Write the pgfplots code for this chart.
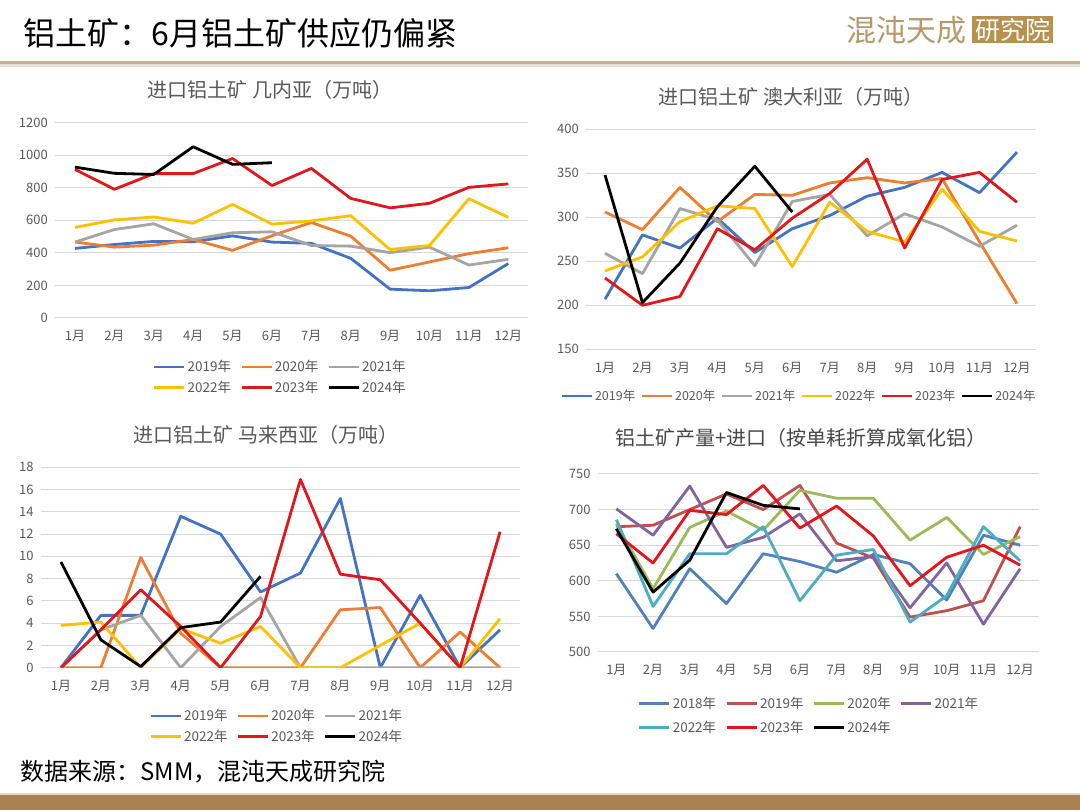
\documentclass[border=0pt]{standalone}
\usepackage{fontspec}
\setmainfont{Noto Sans CJK SC}
\usepackage{pgfplots}
\pgfplotsset{compat=1.18}
\definecolor{c1}{HTML}{4472C4}
\definecolor{c2}{HTML}{ED7D31}
\definecolor{c3}{HTML}{A5A5A5}
\definecolor{c4}{HTML}{FFC000}
\definecolor{c5}{HTML}{E3171B}
\definecolor{d1}{HTML}{4F81BD}
\definecolor{d2}{HTML}{C0504D}
\definecolor{d3}{HTML}{9BBB59}
\definecolor{d4}{HTML}{8064A2}
\definecolor{d5}{HTML}{4BACC6}
\definecolor{d6}{HTML}{E8141B}
\definecolor{gridc}{HTML}{D9D9D9}
\definecolor{labc}{HTML}{595959}
\definecolor{tanc}{HTML}{B8976A}
\definecolor{tanbox}{HTML}{B8914F}
\definecolor{barc}{HTML}{A88052}
\definecolor{linec}{HTML}{C4B193}
\pgfplotsset{
 panel/.style={
  scale only axis, anchor=south west,
  xmin=0.5, xmax=12.5, xtick={1,...,12},
  xticklabels={1月,2月,3月,4月,5月,6月,7月,8月,9月,10月,11月,12月},
  axis line style={draw=none},
  major tick length=0pt,
  ymajorgrids, grid style={gridc, line width=1pt},
  tick label style={font=\fontsize{13}{13}\selectfont, text=labc},
  xticklabel style={yshift=-9pt},
  yticklabel style={xshift=-4pt},
  /pgf/number format/assume math mode=true,
  /pgf/number format/1000 sep={},
  legend cell align=left,
  legend style={draw=none, fill=none, font=\fontsize{13.5}{14}\selectfont, text=labc, anchor=center,
    row sep=4pt,
    /tikz/every even column/.append style={column sep=7pt}},
  legend image code/.code={\draw[##1] (0pt,0pt) -- (30pt,0pt);},
  every axis plot/.append style={line width=2.8pt, line join=round},
  no markers,
 }
}
\begin{document}
\begin{tikzpicture}
\fill[white] (0,0) rectangle (1080pt,810pt);
\path[use as bounding box] (0,0) rectangle (1080pt,810pt);
% header
\node[anchor=west, font=\fontsize{32}{32}\selectfont] at (20pt,777pt) {铝土矿：6月铝土矿供应仍偏紧};
\node[anchor=west, text=tanc, font=\fontsize{30}{30}\selectfont, inner sep=0pt] at (846pt,780pt) {混沌天成};
\node[anchor=west, fill=tanbox, text=white, font=\fontsize{25}{25}\selectfont, inner xsep=3pt, inner ysep=1pt, minimum height=27pt] at (972pt,780pt) {研究院};
\fill[linec] (0,746pt) rectangle (1080pt,749pt);
\fill[linec!40] (0,743pt) rectangle (1080pt,746pt);
% footer
\node[anchor=west, font=\fontsize{24}{24}\selectfont] at (17pt,38pt) {数据来源：SMM，混沌天成研究院};
\fill[linec!50] (0,15pt) rectangle (1080pt,17pt);
\fill[barc] (0,0) rectangle (1080pt,15pt);
% titles
\node[text=labc, font=\fontsize{20}{20}\selectfont] at (270pt,720pt) {进口铝土矿 几内亚（万吨）};
\node[text=labc, font=\fontsize{20}{20}\selectfont] at (791pt,713pt) {进口铝土矿 澳大利亚（万吨）};
\node[text=labc, font=\fontsize{20}{20}\selectfont] at (266pt,375pt) {进口铝土矿 马来西亚（万吨）};
\node[text=labc!80!black, font=\fontsize{20}{20}\selectfont] at (801pt,372pt) {铝土矿产量+进口（按单耗折算成氧化铝）};

% Panel 1 Guinea
\begin{axis}[panel, at={(55.3pt,492pt)}, width=472.7pt, height=195.5pt,
  ymin=0, ymax=1200, ytick={0,200,...,1200},
  legend columns=3, legend style={at={(0.476,-0.304)}}]
\addplot[c1] coordinates {(1,427)(2,451)(3,470)(4,468)(5,504)(6,466)(7,458)(8,366)(9,177)(10,167)(11,187)(12,334)};
\addplot[c2] coordinates {(1,466)(2,435)(3,447)(4,482)(5,415)(6,505)(7,586)(8,502)(9,293)(10,344)(11,395)(12,431)};
\addplot[c3] coordinates {(1,466)(2,543)(3,578)(4,482)(5,523)(6,529)(7,445)(8,441)(9,401)(10,435)(11,325)(12,360)};
\addplot[c4] coordinates {(1,556)(2,602)(3,620)(4,582)(5,697)(6,576)(7,596)(8,628)(9,420)(10,445)(11,732)(12,618)};
\addplot[c5] coordinates {(1,912)(2,790)(3,886)(4,886)(5,979)(6,813)(7,918)(8,734)(9,676)(10,704)(11,802)(12,823)};
\addplot[black] coordinates {(1,926)(2,888)(3,881)(4,1051)(5,943)(6,953)};
\legend{2019年,2020年,2021年,2022年,2023年,2024年}
\end{axis}

% Panel 2 Australia
\begin{axis}[panel, at={(586.3pt,460.7pt)}, width=449.4pt, height=220pt,
  ymin=150, ymax=400, ytick={150,200,...,400},
  legend columns=6, legend style={at={(0.473,-0.212)}, font=\fontsize{12.5}{13}\selectfont,
    /tikz/every even column/.append style={column sep=3pt}}]
\addplot[c1] coordinates {(1,207)(2,280)(3,265)(4,299)(5,260)(6,287)(7,302)(8,324)(9,334)(10,351)(11,328)(12,374)};
\addplot[c2] coordinates {(1,306)(2,286)(3,334)(4,295)(5,326)(6,325)(7,339)(8,345)(9,339)(10,344)(11,272)(12,202)};
\addplot[c3] coordinates {(1,259)(2,236)(3,310)(4,297)(5,245)(6,318)(7,326)(8,279)(9,304)(10,289)(11,267)(12,291)};
\addplot[c4] coordinates {(1,239)(2,255)(3,295)(4,313)(5,310)(6,244)(7,317)(8,284)(9,272)(10,332)(11,284)(12,273)};
\addplot[c5] coordinates {(1,231)(2,200)(3,210)(4,287)(5,263)(6,299)(7,327)(8,366)(9,265)(10,343)(11,351)(12,317)};
\addplot[black] coordinates {(1,348)(2,203)(3,248)(4,312)(5,358)(6,306)};
\legend{2019年,2020年,2021年,2022年,2023年,2024年}
\end{axis}

% Panel 3 Malaysia
\begin{axis}[panel, at={(41pt,142.3pt)}, width=479pt, height=200.4pt,
  ymin=0, ymax=18, ytick={0,2,...,18},
  legend columns=3, legend style={at={(0.492,-0.293)}}]
\addplot[c1] coordinates {(1,0)(2,4.7)(3,4.7)(4,13.6)(5,12.0)(6,6.8)(7,8.5)(8,15.2)(9,0)(10,6.5)(11,0)(12,3.4)};
\addplot[c2] coordinates {(1,0)(2,0)(3,9.9)(4,3.1)(5,0)(6,0)(7,0)(8,5.2)(9,5.4)(10,0)(11,3.2)(12,0)};
\addplot[c3] coordinates {(1,0)(2,3.4)(3,4.7)(4,0)(5,3.7)(6,6.3)(7,0)(8,0)(9,0)(10,0)(11,0)(12,0)};
\addplot[c4] coordinates {(1,3.8)(2,4.1)(3,0)(4,3.5)(5,2.2)(6,3.7)(7,0)(8,0)(9,2.0)(10,4.0)(11,0)(12,4.4)};
\addplot[c5] coordinates {(1,0)(2,3.4)(3,7.0)(4,3.7)(5,0)(6,4.6)(7,16.9)(8,8.4)(9,7.9)(10,4.0)(11,0)(12,12.2)};
\addplot[black] coordinates {(1,9.5)(2,2.5)(3,0.1)(4,3.6)(5,4.1)(6,8.2)};
\legend{2019年,2020年,2021年,2022年,2023年,2024年}
\end{axis}

% Panel 4 production + imports
\begin{axis}[panel, at={(598pt,158pt)}, width=440.5pt, height=178pt,
  ymin=500, ymax=750, ytick={500,550,...,750},
  legend columns=4, legend style={at={(0.479,-0.357)}, row sep=7pt}]
\addplot[d1] coordinates {(1,610)(2,533)(3,617)(4,568)(5,638)(6,627)(7,612)(8,637)(9,624)(10,573)(11,664)(12,650)};
\addplot[d2] coordinates {(1,676)(2,678)(3,700)(4,722)(5,700)(6,734)(7,653)(8,632)(9,549)(10,558)(11,572)(12,676)};
\addplot[d3] coordinates {(1,680)(2,589)(3,675)(4,698)(5,671)(6,727)(7,716)(8,716)(9,657)(10,689)(11,637)(12,662)};
\addplot[d4] coordinates {(1,701)(2,664)(3,733)(4,647)(5,661)(6,694)(7,628)(8,634)(9,562)(10,625)(11,539)(12,617)};
\addplot[d5] coordinates {(1,686)(2,564)(3,638)(4,638)(5,676)(6,572)(7,636)(8,644)(9,542)(10,579)(11,676)(12,628)};
\addplot[d6] coordinates {(1,666)(2,625)(3,699)(4,693)(5,734)(6,674)(7,705)(8,663)(9,593)(10,633)(11,650)(12,622)};
\addplot[black] coordinates {(1,673)(2,584)(3,629)(4,724)(5,706)(6,701)};
\legend{2018年,2019年,2020年,2021年,2022年,2023年,2024年}
\end{axis}
\end{tikzpicture}
\end{document}
